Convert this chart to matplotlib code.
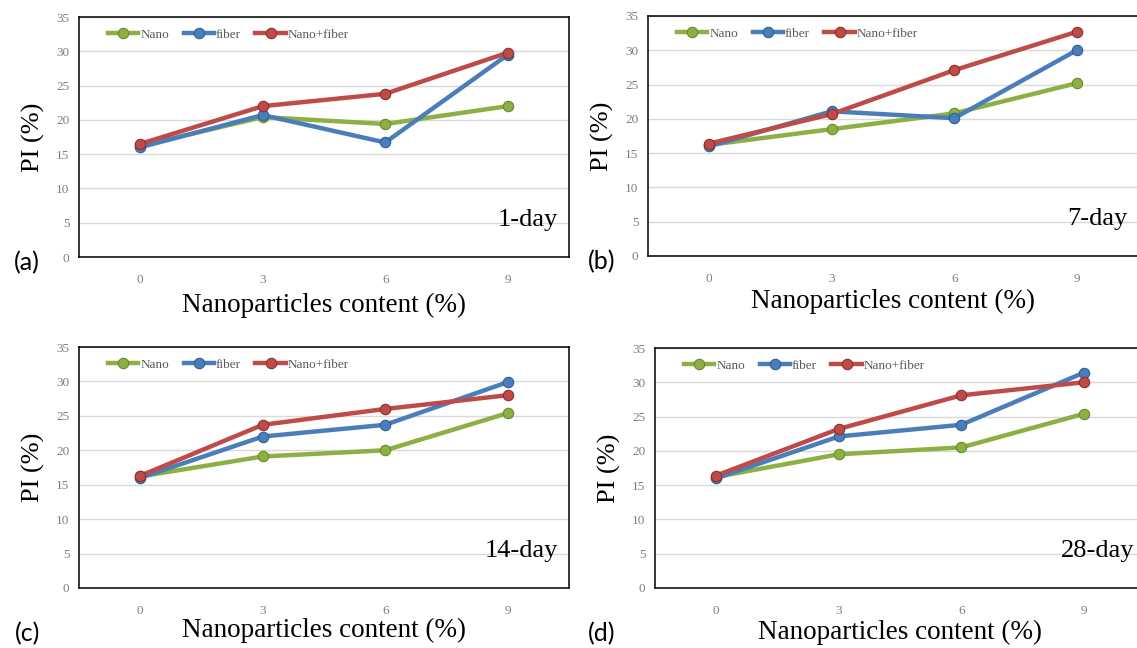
import numpy as np
import matplotlib
matplotlib.use('Agg')
import matplotlib.pyplot as plt

# 纳米颗粒掺量 (%)
contents = ['0', '3', '6', '9']
series_names = ['Nano', 'fiber', 'Nano+fiber']
days = ['1-day', '7-day', '14-day', '28-day']
panel_tags = ['(a)', '(b)', '(c)', '(d)']

# PI (%) values
nano_pi = [
    [16.2, 20.4, 19.4, 22.0],
    [16.2, 18.5, 20.8, 25.2],
    [16.2, 19.1, 20.0, 25.4],
    [16.2, 19.5, 20.5, 25.4],
]
fiber_pi = [
    [16.0, 20.7, 16.7, 29.5],
    [16.0, 21.1, 20.1, 30.0],
    [16.0, 22.0, 23.7, 29.9],
    [16.0, 22.1, 23.8, 31.4],
]
nanofiber_pi = [
    [16.5, 22.0, 23.8, 29.8],
    [16.4, 20.7, 27.1, 32.7],
    [16.3, 23.7, 26.0, 28.0],
    [16.4, 23.2, 28.1, 30.0],
]


def plot_4_subfigure():
    W, H = 1137, 648
    plt.rcParams['font.family'] = ['Liberation Serif', 'DejaVu Serif']
    plt.rcParams['axes.unicode_minus'] = False

    fig = plt.figure(figsize=(W / 100, H / 100), dpi=100)

    # axes boxes in pixels: left, top, right, bottom
    boxes = [(79, 17, 569, 257), (648, 16, 1138, 256),
             (79, 347, 569, 588), (655, 348, 1145, 588)]
    tag_pos = [(27, 263), (602, 262), (28, 634), (602, 634)]
    xlabel_y = [305, 301, 630, 632]

    colors = ['#8CB043', '#4A7EBB', '#BE4B48']
    edges = ['#6A8A2E', '#2F5E95', '#8E2E2B']
    data = [nano_pi, fiber_pi, nanofiber_pi]
    x = np.arange(len(contents))

    for i in range(4):
        l, t, r, b = boxes[i]
        ax = fig.add_axes([l / W, 1 - b / H, (r - l) / W, (b - t) / H])
        for name, vals, c, ec in zip(series_names, data, colors, edges):
            ax.plot(x, vals[i], color=c, lw=3.2, marker='o', ms=7.5,
                    mfc=c, mec=ec, mew=0.8, label=name, zorder=3)
        ax.set_xlim(-0.5, 3.5)
        ax.set_ylim(0, 35)
        ax.set_yticks(range(0, 36, 5))
        ax.set_xticks(x)
        ax.set_xticklabels(contents)
        ax.grid(axis='y', color='#D9D9D9', lw=1)
        ax.set_axisbelow(True)
        for s in ax.spines.values():
            s.set_color('black')
            s.set_linewidth(1.1)
        ax.tick_params(axis='both', length=0, labelsize=9.5, labelcolor='#7F7F7F')
        ax.tick_params(axis='x', pad=12)
        ax.tick_params(axis='y', pad=7)

        ax.set_ylabel('PI (%)', fontsize=19, labelpad=8)
        ax.text((l + r) / 2 / W, 1 - xlabel_y[i] / H, 'Nanoparticles content (%)',
                transform=fig.transFigure, ha='center', va='center', fontsize=19.5)
        ax.text(0.978, 0.155, days[i], transform=ax.transAxes,
                ha='right', va='center', fontsize=19)

        ax.legend(loc='upper left', bbox_to_anchor=(0.035, 1.0), frameon=False,
                  ncol=3, fontsize=9.5, handlelength=2.3, columnspacing=1.1,
                  handletextpad=0.15, labelcolor='#595959')

        fig.text(tag_pos[i][0] / W, 1 - tag_pos[i][1] / H, panel_tags[i],
                 ha='center', va='center', fontsize=18,
                 family=['Lato', 'DejaVu Sans'])

    plt.savefig('out.png', dpi=100)


plot_4_subfigure()
